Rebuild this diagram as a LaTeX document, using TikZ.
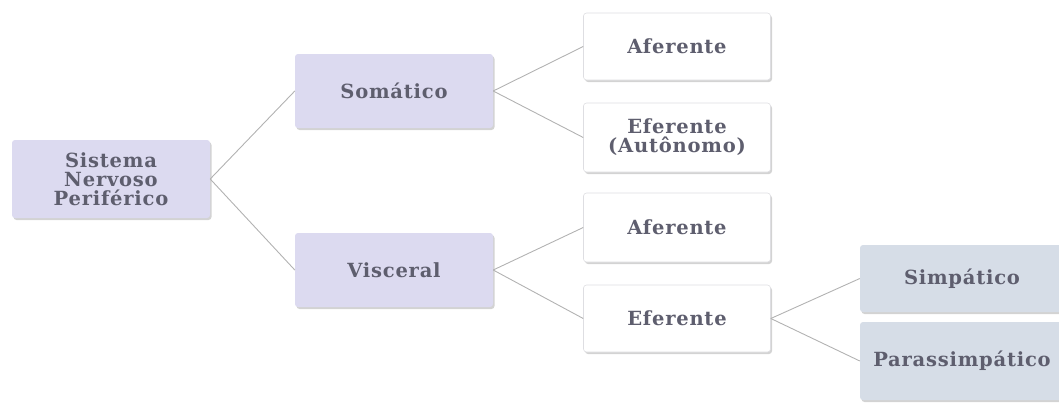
\documentclass[tikz,border=0pt]{standalone}
\usepackage{fontspec}
\setmainfont{DejaVu Serif}[LetterSpace=4]
\usetikzlibrary{shadows}
\definecolor{lav}{HTML}{DCDAF0}
\definecolor{bluegrey}{HTML}{D6DDE7}
\definecolor{txt}{HTML}{5E5E6E}
\definecolor{edgegrey}{HTML}{C8C8CE}
\tikzset{
  x=1pt, y=-1pt,
  box/.style={rounded corners=3pt, draw=none, font=\bfseries\fontsize{19.5}{19}\selectfont, text=txt, align=center,
    drop shadow={shadow xshift=1.5pt, shadow yshift=-2pt, opacity=0.35, fill=gray}},
  lvl1/.style={box, fill=lav},
  lvl2/.style={box, fill=white, draw=edgegrey!60, line width=0.6pt},
  lvl3/.style={box, fill=bluegrey},
  conn/.style={draw=gray!60, line width=0.9pt}
}
\begin{document}
\begin{tikzpicture}
\useasboundingbox (0,0) rectangle (1059,402);
% level 0
\node[lvl1, minimum width=198pt, minimum height=78pt] (snp) at (111,179) {Sistema\\Nervoso\\Periférico};
% level 1
\node[lvl1, minimum width=198pt, minimum height=74pt] (som) at (394,91) {Somático};
\node[lvl1, minimum width=198pt, minimum height=74pt] (vis) at (394,270) {Visceral};
% level 2
\node[lvl2, minimum width=187pt, minimum height=67pt] (af1) at (677,46.5) {Aferente};
\node[lvl2, minimum width=187pt, minimum height=69pt] (ef1) at (677,137.5) {Eferente\\(Autônomo)};
\node[lvl2, minimum width=187pt, minimum height=69pt] (af2) at (677,227.5) {Aferente};
\node[lvl2, minimum width=187pt, minimum height=67pt] (ef2) at (677,318.5) {Eferente};
% level 3
\node[lvl3, minimum width=204pt, minimum height=67pt] (sim) at (962,278.5) {Simpático};
\node[lvl3, minimum width=204pt, minimum height=78pt] (par) at (962,361) {Parassimpático};
% connectors
\draw[conn] (snp.east) -- (som.west);
\draw[conn] (snp.east) -- (vis.west);
\draw[conn] (som.east) -- (af1.west);
\draw[conn] (som.east) -- (ef1.west);
\draw[conn] (vis.east) -- (af2.west);
\draw[conn] (vis.east) -- (ef2.west);
\draw[conn] (ef2.east) -- (sim.west);
\draw[conn] (ef2.east) -- (par.west);
\end{tikzpicture}
\end{document}
